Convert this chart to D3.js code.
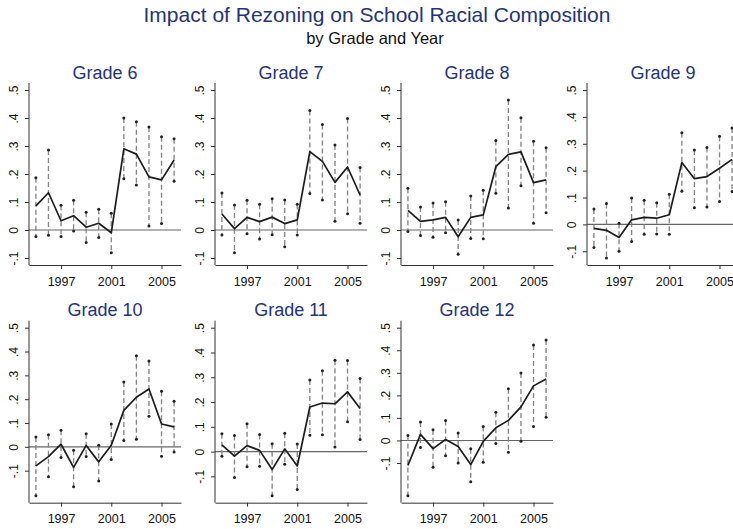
<!DOCTYPE html>
<html>
<head>
<meta charset="utf-8">
<script src="https://cdn.jsdelivr.net/npm/d3@7"></script>
<style>
  html, body { margin: 0; padding: 0; background: #fff; }
  svg { display: block; font-family: "Liberation Sans", Arial, sans-serif; }
</style>
</head>
<body>
<svg id="chart" width="733" height="529"></svg>
<script>
// ---- data ----
const title = "Impact of Rezoning on School Racial Composition";
const subtitle = "by Grade and Year";
const years = [1995, 1996, 1997, 1998, 1999, 2000, 2001, 2002, 2003, 2004, 2005, 2006];
const xTickYears = [1997, 2001, 2005];
const yTickValues = [-0.1, 0, 0.1, 0.2, 0.3, 0.4, 0.5];
const grades = ["Grade 6", "Grade 7", "Grade 8", "Grade 9", "Grade 10", "Grade 11", "Grade 12"];

const est6 = [0.086, 0.133, 0.033, 0.051, 0.010, 0.024, -0.010, 0.290, 0.271, 0.190, 0.179, 0.250];
const hi6  = [0.187, 0.286, 0.088, 0.106, 0.063, 0.074, 0.060, 0.400, 0.387, 0.368, 0.333, 0.326];
const lo6  = [-0.023, -0.019, -0.023, -0.004, -0.045, -0.027, -0.081, 0.183, 0.161, 0.014, 0.023, 0.174];

const est7 = [0.057, 0.005, 0.045, 0.030, 0.046, 0.023, 0.036, 0.280, 0.245, 0.170, 0.225, 0.125];
const hi7  = [0.132, 0.089, 0.106, 0.092, 0.112, 0.107, 0.092, 0.427, 0.377, 0.304, 0.398, 0.223];
const lo7  = [-0.018, -0.081, -0.013, -0.032, -0.017, -0.060, -0.018, 0.130, 0.107, 0.031, 0.058, 0.024];

const est8 = [0.070, 0.031, 0.036, 0.045, -0.024, 0.045, 0.054, 0.226, 0.270, 0.279, 0.169, 0.179];
const hi8  = [0.149, 0.082, 0.096, 0.101, 0.036, 0.121, 0.142, 0.320, 0.464, 0.401, 0.317, 0.294];
const lo8  = [-0.005, -0.020, -0.026, -0.010, -0.087, -0.030, -0.031, 0.131, 0.079, 0.158, 0.024, 0.062];

const est9 = [-0.015, -0.022, -0.049, 0.017, 0.026, 0.023, 0.036, 0.230, 0.170, 0.178, 0.209, 0.242];
const hi9  = [0.057, 0.078, 0.004, 0.098, 0.090, 0.081, 0.112, 0.341, 0.277, 0.286, 0.328, 0.359];
const lo9  = [-0.086, -0.125, -0.100, -0.064, -0.037, -0.036, -0.037, 0.123, 0.062, 0.065, 0.085, 0.122];

const est10 = [-0.080, -0.041, 0.011, -0.086, 0.006, -0.063, 0.007, 0.153, 0.208, 0.243, 0.096, 0.084];
const hi10  = [0.041, 0.051, 0.070, -0.014, 0.055, 0.007, 0.096, 0.272, 0.382, 0.360, 0.233, 0.191];
const lo10  = [-0.205, -0.126, -0.045, -0.167, -0.041, -0.143, -0.053, 0.027, 0.032, 0.128, -0.039, -0.022];

const est11 = [0.027, -0.018, 0.024, 0.005, -0.072, 0.011, -0.058, 0.180, 0.196, 0.193, 0.241, 0.174];
const hi11  = [0.072, 0.065, 0.112, 0.069, 0.032, 0.074, 0.031, 0.289, 0.326, 0.369, 0.368, 0.295];
const lo11  = [-0.019, -0.105, -0.061, -0.059, -0.178, -0.051, -0.153, 0.066, 0.068, 0.019, 0.120, 0.049];

const est12 = [-0.111, 0.027, -0.036, 0.004, -0.027, -0.107, -0.004, 0.056, 0.089, 0.149, 0.242, 0.273];
const hi12  = [0.022, 0.082, 0.048, 0.088, 0.033, -0.037, 0.062, 0.125, 0.229, 0.299, 0.423, 0.446];
const lo12  = [-0.245, -0.031, -0.119, -0.068, -0.100, -0.183, -0.097, -0.013, -0.052, -0.004, 0.062, 0.103];

const estimates = [est6, est7, est8, est9, est10, est11, est12];
const uppers = [hi6, hi7, hi8, hi9, hi10, hi11, hi12];
const lowers = [lo6, lo7, lo8, lo9, lo10, lo11, lo12];

// ---- layout ----
const colX = [29, 215, 401, 587];
const rowTop = [83, 320.7];
const plotW = 152, plotH = 182, pad = 7;
const titleColor = "#24337a";

const svg = d3.select("#chart");

svg.append("text").attr("x", 377).attr("y", 22).attr("text-anchor", "middle")
  .attr("font-size", 21).attr("fill", titleColor).text(title);
svg.append("text").attr("x", 375).attr("y", 44).attr("text-anchor", "middle")
  .attr("font-size", 16.5).attr("fill", "#111").text(subtitle);

const fmtY = v => {
  if (Math.abs(v) < 1e-9) return "0";
  return (v < 0 ? "-" : "") + "." + Math.round(Math.abs(v) * 10);
};

grades.forEach((g, i) => {
  const row = i < 4 ? 0 : 1;
  const col = i < 4 ? i : i - 4;
  const x0 = colX[col], y0 = rowTop[row];
  const est = estimates[i], hi = uppers[i], lo = lowers[i];

  const yMin = Math.min(-0.1, d3.min(lo));
  const yMax = Math.max(0.5, d3.max(hi));
  const x = d3.scaleLinear().domain([1994.45, 2006.55]).range([x0, x0 + plotW]);
  const y = d3.scaleLinear().domain([yMin, yMax]).range([y0 + plotH - pad, y0 + pad]);

  const gp = svg.append("g");

  // panel title
  gp.append("text").attr("x", x0 + plotW / 2).attr("y", y0 - 4.5)
    .attr("text-anchor", "middle").attr("font-size", 18).attr("fill", titleColor).text(g);

  // zero line
  gp.append("line").attr("x1", x0).attr("x2", x0 + plotW)
    .attr("y1", y(0)).attr("y2", y(0)).attr("stroke", "#666").attr("stroke-width", 1.1);

  // CI dashed lines
  gp.selectAll(".ci").data(years).join("line")
    .attr("x1", d => x(d)).attr("x2", d => x(d))
    .attr("y1", (d, j) => y(hi[j])).attr("y2", (d, j) => y(lo[j]))
    .attr("stroke", "#858585").attr("stroke-width", 1.35).attr("stroke-dasharray", "5,3");

  // CI end markers
  const ends = years.flatMap((d, j) => [[d, hi[j]], [d, lo[j]]]);
  gp.selectAll(".end").data(ends).join("circle")
    .attr("cx", d => x(d[0])).attr("cy", d => y(d[1])).attr("r", 1.5).attr("fill", "#222");

  // estimate line
  gp.append("path").datum(years.map((d, j) => [d, est[j]]))
    .attr("fill", "none").attr("stroke", "#1c1c1c").attr("stroke-width", 1.7)
    .attr("stroke-linejoin", "round")
    .attr("d", d3.line().x(d => x(d[0])).y(d => y(d[1])));

  // y axis
  const ya = gp.append("g").attr("transform", `translate(${x0},0)`)
    .call(d3.axisLeft(y).tickValues(yTickValues).tickFormat(fmtY).tickSize(4).tickSizeOuter(0));
  ya.select(".domain").remove();
  ya.selectAll(".tick line").attr("stroke", "#333");
  ya.selectAll(".tick text")
    .attr("transform", "rotate(-90)").attr("x", 0).attr("y", -11.5).attr("dy", 0)
    .attr("text-anchor", "middle").attr("font-size", 12).attr("fill", "#111")
    .attr("font-family", "Liberation Sans, Arial, sans-serif");
  gp.append("line").attr("x1", x0).attr("x2", x0).attr("y1", y0).attr("y2", y0 + plotH)
    .attr("stroke", "#333").attr("stroke-width", 1);

  // x axis
  const xa = gp.append("g").attr("transform", `translate(0,${y0 + plotH})`)
    .call(d3.axisBottom(x).tickValues(xTickYears).tickFormat(d3.format("d")).tickSize(4).tickSizeOuter(0));
  xa.select(".domain").attr("stroke", "#333");
  xa.selectAll(".tick line").attr("stroke", "#333");
  xa.selectAll(".tick text").attr("y", 20.5).attr("dy", 0).attr("font-size", 12.5)
    .attr("fill", "#111").attr("font-family", "Liberation Sans, Arial, sans-serif");
});
</script>
</body>
</html>
